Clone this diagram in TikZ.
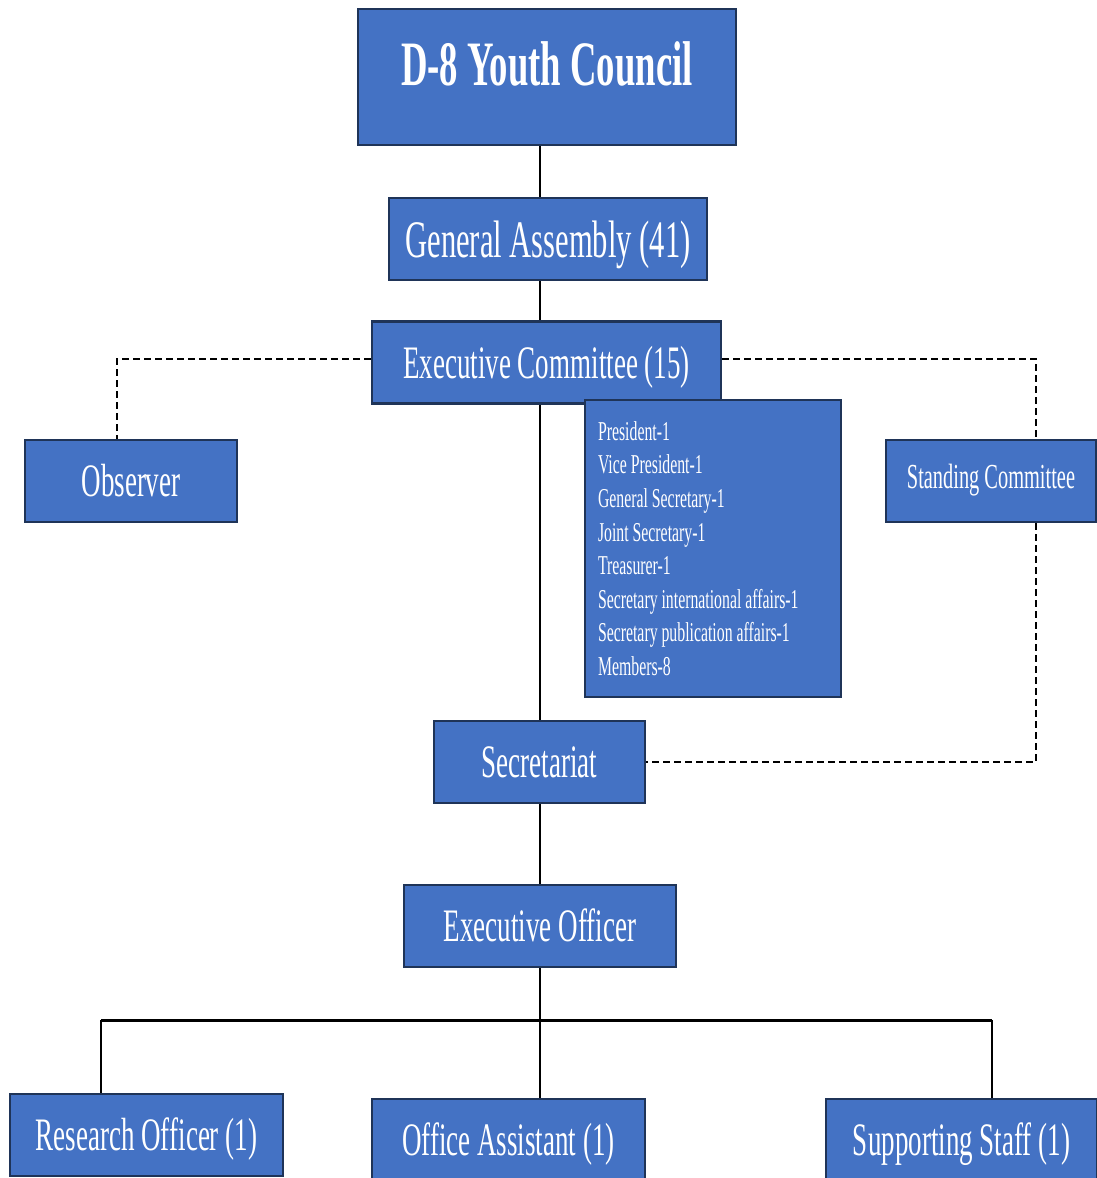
\documentclass[tikz,border=0pt]{standalone}
\usepackage{fontspec}
\setmainfont{Liberation Serif}[FakeStretch=0.58]
\usepackage{tikz}
\definecolor{boxblue}{HTML}{4472C4}
\definecolor{boxedge}{HTML}{1F3458}

\begin{document}
\begin{tikzpicture}[x=0.02cm, y=-0.02cm,
    box/.style={draw=boxedge, fill=boxblue, line width=1.6pt, text=white,
        inner sep=0pt, minimum height=1.64cm, text height=0.62cm, text depth=0pt,
        font=\fontsize{26.5}{30}\selectfont},
    link/.style={line width=1.1pt},
    dashline/.style={line width=0.9pt, dash pattern=on 0.13cm off 0.09cm}]
    \useasboundingbox (0,0) rectangle (1097,1178);
    % boxes
    \node[box, minimum width=7.56cm, minimum height=2.72cm, text height=0.84cm, text depth=0.52cm,
        font=\fontsize{36}{40}\selectfont\bfseries] (council) at (547,77) {D-8 Youth Council};
    \node[box, minimum width=6.36cm, text height=0.72cm, font=\fontsize{30}{34}\selectfont] (assembly) at (548,239) {General Assembly (41)};
    \node[box, minimum width=6.98cm] (excom) at (546.5,362.5) {Executive Committee (15)};
    \node[box, text width=4.6cm, inner xsep=0.26cm, minimum height=5.94cm, align=flush left,
        text height=, text depth=, font=\fontsize{15.5}{19.1}\selectfont] (members) at (713,548.5)
        {President-1\\ Vice President-1\\ General Secretary-1\\ Joint Secretary-1\\ Treasurer-1\\
         Secretary international affairs-1\\ Secretary publication affairs-1\\ Members-8};
    \node[box, minimum width=4.24cm] (observer) at (131,481) {Observer};
    \node[box, minimum width=4.2cm, text height=0.465cm, text depth=0.16cm,
        font=\fontsize{20}{24}\selectfont] (standing) at (991,481) {Standing Committee};
    \node[box, minimum width=4.22cm] (secretariat) at (539.5,762) {Secretariat};
    \node[box, minimum width=5.44cm] (officer) at (540,926) {Executive Officer};
    \node[box, minimum width=5.46cm] (research) at (146.5,1135) {Research Officer (1)};
    \node[box, minimum width=5.46cm] (assistant) at (508.5,1140) {Office Assistant (1)};
    \node[box, minimum width=5.42cm] (support) at (961.5,1140) {Supporting Staff (1)};
    % solid links
    \draw[link] (council.south -| officer) -- (assembly.north -| officer);
    \draw[link] (assembly.south -| officer) -- (excom.north -| officer);
    \draw[link] (excom.south -| officer) -- (secretariat.north -| officer);
    \draw[link] (secretariat.south -| officer) -- (officer.north);
    \coordinate (busL) at (101,1020);
    \coordinate (busR) at (992,1020);
    \draw[line width=1.7pt] (busL) -- (busR);
    \draw[link] (officer.south) -- (assistant.north -| officer);
    \draw[link] (busL) -- (busL |- research.north);
    \draw[link] (busR) -- (busR |- support.north);
    % dashed links
    \draw[dashline] ([yshift=0.07cm]excom.west) -| ([xshift=-0.28cm]observer.north);
    \draw[dashline] ([yshift=0.07cm]excom.east) -| ([xshift=0.9cm]standing.north);
    \draw[dashline] ([xshift=0.9cm]standing.south) |- (secretariat.east);
\end{tikzpicture}
\end{document}
